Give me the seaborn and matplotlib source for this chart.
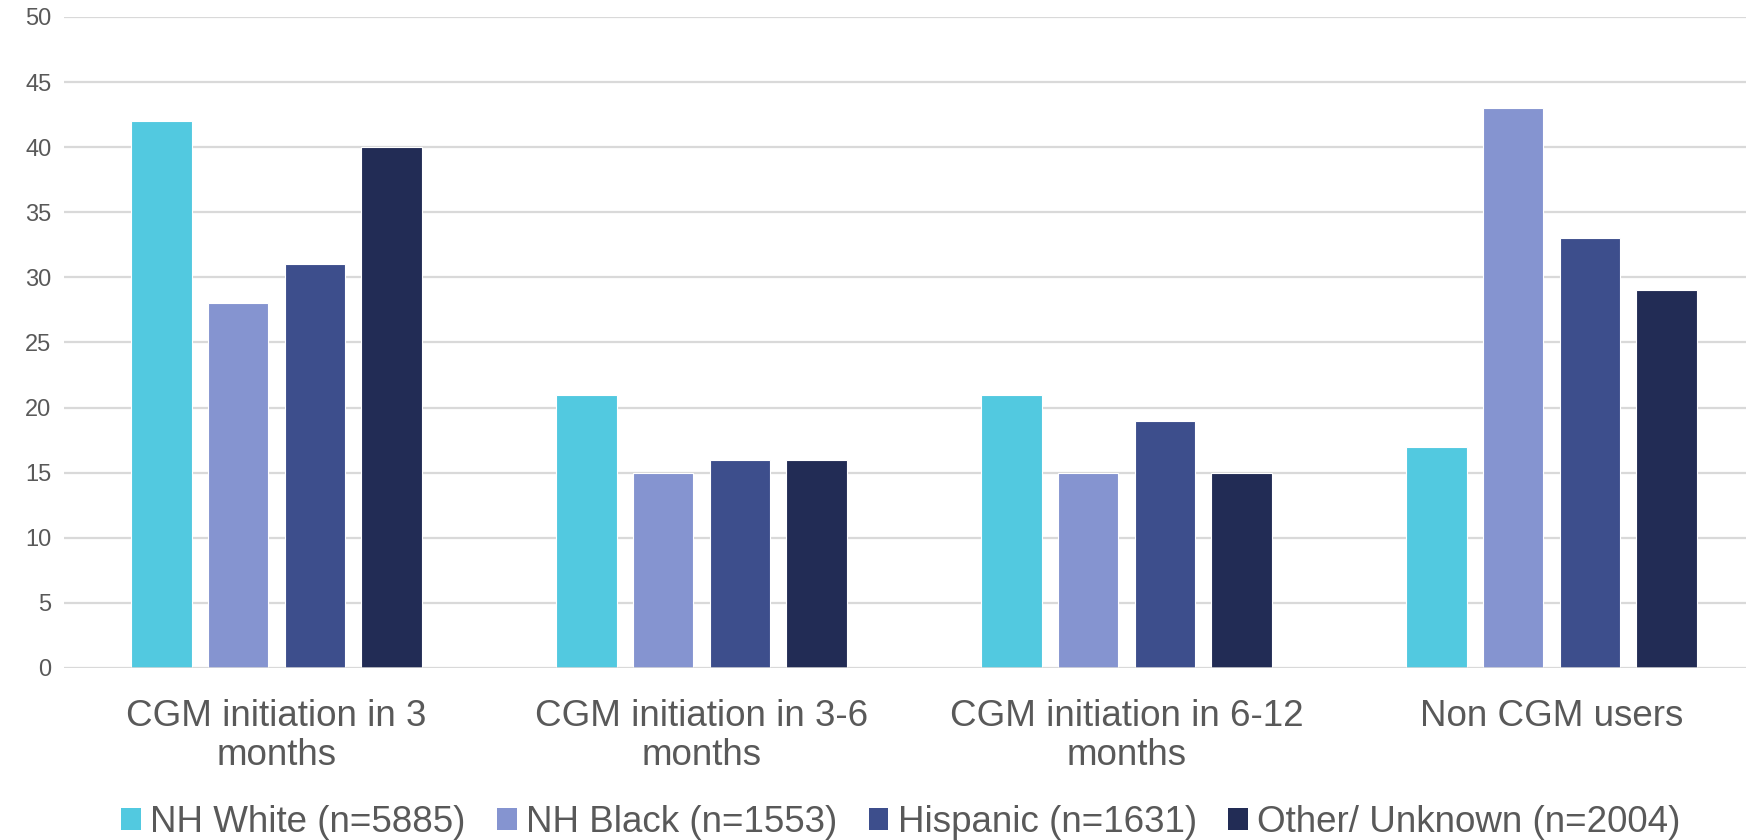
import matplotlib
matplotlib.use("Agg")
import matplotlib.pyplot as plt
from matplotlib.patches import Patch
import pandas as pd
import seaborn as sns

# Share of patients (%) by CGM initiation timing and race/ethnicity
categories = [
    "CGM initiation in 3\nmonths",
    "CGM initiation in 3-6\nmonths",
    "CGM initiation in 6-12\nmonths",
    "Non CGM users",
]
groups = [
    "NH White (n=5885)",
    "NH Black (n=1553)",
    "Hispanic (n=1631)",
    "Other/ Unknown (n=2004)",
]
nh_white = [42, 21, 21, 17]
nh_black = [28, 15, 15, 43]
hispanic = [31, 16, 19, 33]
other_unknown = [40, 16, 15, 29]

colors = ["#52C9E0", "#8594D0", "#3D4E8C", "#222C55"]
text_color = "#595959"
grid_color = "#D9D9D9"

rows = []
for grp, vals in zip(groups, [nh_white, nh_black, hispanic, other_unknown]):
    for cat, v in zip(categories, vals):
        rows.append({"category": cat, "group": grp, "value": v})
df = pd.DataFrame(rows)

sns.set_theme(style="white")
plt.rcParams["font.family"] = ["Liberation Sans", "DejaVu Sans"]

fig = plt.figure(figsize=(17.46, 8.40), dpi=100)
ax = fig.add_axes([64 / 1746, 1 - 668 / 840, 1700 / 1746, 651 / 840])

sns.barplot(
    data=df, x="category", y="value", hue="group",
    order=categories, hue_order=groups, palette=colors, saturation=1,
    width=0.723, gap=0.21, edgecolor="white", linewidth=0.8,
    errorbar=None, legend=False, ax=ax, zorder=3,
)

ax.set_xlim(-0.5, 3.5)
ax.set_ylim(0, 50)
ax.set_yticks(range(0, 51, 5))
ax.yaxis.grid(True, color=grid_color, linewidth=1.6, zorder=0)
ax.set_axisbelow(True)
for side in ["top", "right", "left", "bottom"]:
    ax.spines[side].set_visible(False)
ax.axhline(0, color=grid_color, linewidth=1.8, zorder=4)
ax.set_xlabel("")
ax.set_ylabel("")

ax.tick_params(axis="y", length=0, pad=9, labelsize=17, labelcolor=text_color)
ax.tick_params(axis="x", length=0, pad=22, labelsize=26.5, labelcolor=text_color)
for lbl in ax.get_xticklabels():
    lbl.set_linespacing(1.15)

handles = [Patch(facecolor=c, edgecolor="none", label=g) for c, g in zip(colors, groups)]
fig.legend(
    handles=handles, loc="lower center", bbox_to_anchor=(0.516, 0.0),
    ncol=4, frameon=False, fontsize=26.5, labelcolor=text_color,
    handlelength=0.53, handleheight=0.53, handletextpad=0.25,
    columnspacing=0.86, borderaxespad=0.0, borderpad=0.0,
)

fig.savefig("out.png", dpi=100)
